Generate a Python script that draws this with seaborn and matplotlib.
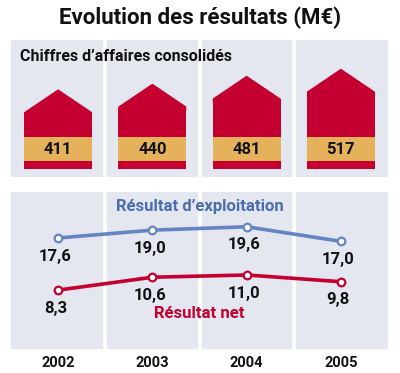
import numpy as np
import pandas as pd
import matplotlib
matplotlib.use("Agg")
import matplotlib.pyplot as plt
from matplotlib.patches import Polygon
import seaborn as sns

# data
years = ["2002", "2003", "2004", "2005"]
chiffre_affaires = [411, 440, 481, 517]
res_exploitation = [17.6, 19.0, 19.6, 17.0]
res_net = [8.3, 10.6, 11.0, 9.8]
labels_exploitation = ["17,6", "19,0", "19,6", "17,0"]
labels_net = ["8,3", "10,6", "11,0", "9,8"]

sns.set_theme(style="white")
plt.rcParams['font.family'] = ['Roboto', 'DejaVu Sans']

RED = "#c3002f"
ORANGE = "#e5b25b"
BLUE = "#6385c3"
BLUE_TXT = "#4a6eb0"
BG = "#e4e6f0"

fig = plt.figure(figsize=(4, 3.73), dpi=100)
fig.patch.set_facecolor("white")

fig.text(0.5, 1 - 18 / 373, "Evolution des résultats (M€)", ha="center", va="center",
         fontsize=16, fontweight="bold", color="#111111")

W, H = 400, 373
# top panel: houses
ax1 = fig.add_axes([11 / W, 1 - 177 / H, 377 / W, 137 / H])
# bottom panel: lines
ax2 = fig.add_axes([11 / W, 1 - 349 / H, 377 / W, 157 / H])

for ax in (ax1, ax2):
    ax.set_facecolor(BG)
    for s in ax.spines.values():
        s.set_visible(False)
    for b in (0.5, 1.5, 2.5):
        ax.axvline(b, color="white", lw=2.6, zorder=1)

# ---- houses ----
roof = 118      # roof height in value units
base = 41       # red strip under band
band = 124      # orange band height
hw = 0.36
body = [v - roof for v in chiffre_affaires]
df_ca = pd.DataFrame({"annee": years, "body": body})
sns.barplot(data=df_ca, x="annee", y="body", color=RED, width=2 * hw,
            saturation=1, linewidth=0, ax=ax1, zorder=2)
for i, v in enumerate(chiffre_affaires):
    # roof overlaps the body a bit so no seam shows
    ax1.add_patch(Polygon([(i - hw, v - roof - 20), (i - hw, v - roof), (i, v),
                           (i + hw, v - roof), (i + hw, v - roof - 20)],
                          closed=True, facecolor=RED, edgecolor="none", lw=0, zorder=2.5))
    ax1.bar(i, band, bottom=base, width=2 * hw, color=ORANGE, lw=0, zorder=3)
    ax1.text(i, base + band / 2, str(v), ha="center", va="center",
             fontsize=12, fontweight="bold", color="#111111", zorder=4)
ax1.set_xlim(-0.5, 3.5)
ax1.set_ylim(-41, 665)
ax1.set_xlabel("")
ax1.set_ylabel("")
ax1.set_xticks([])
ax1.set_yticks([])
ax1.text(0.025, 0.88, "Chiffres d\u2019affaires consolidés", transform=ax1.transAxes,
         ha="left", va="center", fontsize=11.5, fontweight="bold", color="#111111")

# ---- lines ----
df = pd.DataFrame({"x": range(4), "expl": res_exploitation, "net": res_net})
sns.lineplot(data=df, x="x", y="expl", color=BLUE, lw=2.6, marker="o", ms=5.5,
             mfc="white", mec=BLUE, mew=1.6, ax=ax2, zorder=3)
sns.lineplot(data=df, x="x", y="net", color=RED, lw=2.6, marker="o", ms=5.5,
             mfc="white", mec=RED, mew=1.6, ax=ax2, zorder=3)
for i in range(4):
    ax2.annotate(labels_exploitation[i], (i, res_exploitation[i]), xytext=(-2, -13),
                 textcoords="offset points", ha="center", va="center",
                 fontsize=12, fontweight="bold", color="#111111")
    ax2.annotate(labels_net[i], (i, res_net[i]), xytext=(-2, -13),
                 textcoords="offset points", ha="center", va="center",
                 fontsize=12, fontweight="bold", color="#111111")
ax2.text(0.5, 1 - 14 / 157, "Résultat d\u2019exploitation", transform=ax2.transAxes,
         ha="center", va="center", fontsize=12, fontweight="bold", color=BLUE_TXT)
ax2.text(0.5, 1 - 121 / 157, "Résultat net", transform=ax2.transAxes,
         ha="center", va="center", fontsize=12, fontweight="bold", color=RED)
ax2.set_xlim(-0.5, 3.5)
ax2.set_ylim(-2.2, 25.8)
ax2.set_xticks(range(4))
ax2.set_xticklabels(years, fontsize=10.5, fontweight="bold", color="#111111")
ax2.tick_params(axis="x", length=0, pad=5)
ax2.set_yticks([])
ax2.set_xlabel("")
ax2.set_ylabel("")

fig.savefig("out.png", dpi=100)
